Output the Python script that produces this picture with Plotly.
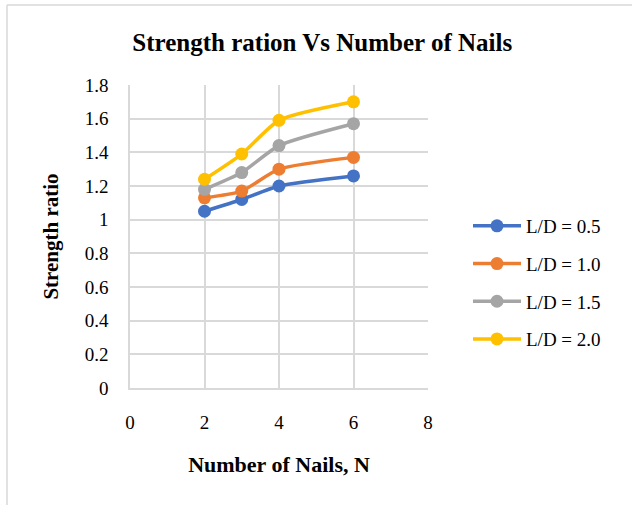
import plotly.graph_objects as go

# Strength ratio versus number of nails for each L/D ratio
nails = [2, 3, 4, 6]
series_names = ["L/D = 0.5", "L/D = 1.0", "L/D = 1.5", "L/D = 2.0"]
ld_05 = [1.05, 1.12, 1.20, 1.26]
ld_10 = [1.13, 1.17, 1.30, 1.37]
ld_15 = [1.18, 1.28, 1.44, 1.57]
ld_20 = [1.24, 1.39, 1.59, 1.70]
colors = ["#4472C4", "#ED7D31", "#A5A5A5", "#FFC000"]

x_ticks = [0, 2, 4, 6, 8]
y_ticks = [0, 0.2, 0.4, 0.6, 0.8, 1, 1.2, 1.4, 1.6, 1.8]

W, H = 632, 507
L, R, T, B = 130, 204, 85, 119
pw, ph = W - L - R, H - T - B

font_family = "Liberation Serif, Times New Roman, serif"

fig = go.Figure()
for name, vals, col in zip(series_names, [ld_05, ld_10, ld_15, ld_20], colors):
    fig.add_trace(go.Scatter(
        x=nails, y=vals, name=name, legendgroup=name,
        mode="lines+markers",
        line=dict(color=col, width=3.5, shape="spline", smoothing=0.6),
        marker=dict(color=col, size=13),
    ))

grid = "#D9D9D9"
fig.update_layout(
    width=W, height=H,
    margin=dict(l=L, r=R, t=T, b=B),
    paper_bgcolor="white", plot_bgcolor="white",
    font=dict(family=font_family, size=19, color="black"),
    title=dict(text="<b>Strength ration Vs Number of Nails</b>",
               x=0.51, xanchor="center", y=1 - 42 / H, yanchor="middle",
               font=dict(size=25)),
    xaxis=dict(range=[0, 8], tickvals=x_ticks, showgrid=True, gridcolor=grid,
               gridwidth=1.5, zeroline=False, showline=True, linecolor=grid,
               linewidth=1.5, ticks="", ticklabelstandoff=16,
               tickfont=dict(size=19),
               title=dict(text="<b>Number of Nails, N</b>", standoff=25,
                          font=dict(size=22))),
    yaxis=dict(range=[0, 1.8], tickvals=y_ticks, showgrid=True, gridcolor=grid,
               gridwidth=1.5, zeroline=False, showline=True, linecolor=grid,
               linewidth=1.5, ticks="", ticklabelstandoff=16,
               tickfont=dict(size=19),
               title=dict(text="<b>Strength ratio</b>", standoff=20,
                          font=dict(size=21))),
    legend=dict(x=(468 - L) / pw, y=(388 - 207) / ph, xanchor="left", yanchor="top",
                font=dict(size=19), tracegroupgap=10, itemwidth=48,
                bgcolor="rgba(0,0,0,0)"),
    showlegend=True,
)

# Light outer frame on the left and top edges
fig.add_shape(type="line", xref="paper", yref="paper",
              x0=(7 - L) / pw, x1=(7 - L) / pw, y0=(H - B - 505) / ph, y1=(H - B - 5) / ph,
              line=dict(color="#D9D9D9", width=1.5))
fig.add_shape(type="line", xref="paper", yref="paper",
              x0=(7 - L) / pw, x1=(632 - L) / pw, y0=(H - B - 5) / ph, y1=(H - B - 5) / ph,
              line=dict(color="#D9D9D9", width=1.5))

fig.write_html("out.html")
